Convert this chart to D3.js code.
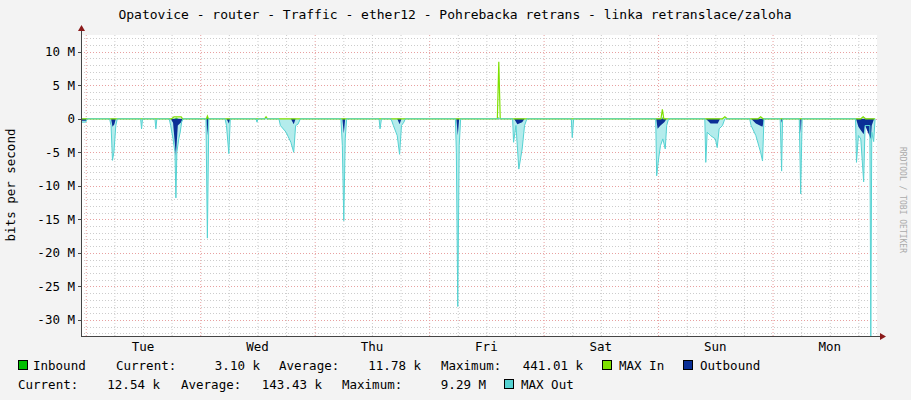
<!DOCTYPE html>
<html><head><meta charset="utf-8">
<script src="https://cdn.jsdelivr.net/npm/d3@7"></script>
<style>body{margin:0;background:#f3f3f3}svg{display:block}text{font-family:"DejaVu Sans Mono",monospace;fill:#000}</style>
</head><body><svg id="c" width="911" height="400"></svg>
<script>
const title = "Opatovice - router - Traffic - ether12 - Pohrebacka retrans - linka retranslace/zaloha";
const dayLabels = ["Tue","Wed","Thu","Fri","Sat","Sun","Mon"];
const yTicks = [10,5,0,-5,-10,-15,-20,-25,-30];
// [hour since Mon 00:00, Mbit/s]
const maxOut = [[-1,-0.5],[0,-0.5],[0.3,0],[5.0,0],[5.3,-1],[5.6,-6.2],[5.9,-5],[6.3,-1],[6.6,0],[11.5,0],[11.7,-1.5],[11.9,0],[14.5,0],[14.7,-1.5],[14.9,0],[17.5,0],[17.8,-1],[18.3,-3],[18.7,-5],[18.9,-11.8],[19.1,-5],[19.5,-3],[19.8,-2],[20.1,-0.5],[20.4,0],[25.2,0],[25.5,-17.8],[25.8,0],[29.2,0],[29.5,-1],[30.0,-5.2],[30.3,0],[35.7,0],[35.9,-0.5],[36.1,0],[40.5,0],[40.8,-1],[42,-2],[43,-3.5],[43.6,-5],[44,-1],[44.5,-0.8],[45,0],[53.5,0],[53.8,-4],[54.1,-15.2],[54.4,-3],[54.7,0],[61.5,0],[61.7,-1.5],[62,0],[64,0],[64.5,-1],[65.3,-2.5],[65.8,-5.3],[66.2,-1],[66.7,-0.5],[67,0],[77.5,0],[77.7,-5],[78,-28],[78.3,-4],[78.6,0],[89.5,0],[89.7,-3.5],[90.2,-1],[90.8,-7.5],[91.5,-4.5],[92,-1],[92.5,0],[101.8,0],[102,-2.8],[102.3,0],[119.5,0],[119.7,-8.5],[120.1,-6],[120.5,-4],[121,-3],[121.5,-4.5],[121.8,-1],[122.2,0],[129.8,0],[130,-6.5],[130.3,-2],[131,-2.5],[132,-3],[132.4,-4.3],[132.8,-1.5],[133.5,-1],[134,0],[139.2,0],[139.5,-1],[140.5,-2.5],[141.5,-5],[141.9,-6.3],[142.2,0],[145.6,0],[145.9,-7.8],[146.1,0],[149.6,0],[149.9,-11.2],[150.2,0],[161.4,0],[161.6,-6.5],[162,-2.5],[162.5,-3],[163.1,-9.4],[163.4,-1],[164.4,-1],[164.6,-32.5],[164.8,-2],[165.2,-3.4],[165.5,0]];
const outbound = [[-1,-0.3],[0,-0.3],[0.3,0],[5.3,0],[5.6,-1.2],[6,-0.8],[6.3,0],[17.8,0],[18.3,-0.6],[18.9,-5.5],[19.3,-1],[20,-0.5],[20.3,0],[25.3,0],[25.5,-2.5],[25.7,0],[29.5,0],[30,-0.7],[30.3,0],[43,0],[43.6,-0.8],[44,0],[53.8,0],[54.1,-2.2],[54.4,0],[65.3,0],[65.8,-0.8],[66.2,0],[77.7,0],[78,-2.5],[78.3,0],[89.8,0],[90.5,-0.8],[91.5,-0.5],[92,0],[119.6,0],[119.9,-1.5],[120.5,-1],[121.3,-0.5],[121.8,0],[130,0],[131,-0.7],[132.5,-0.7],[133,0],[139.5,0],[140.5,-0.7],[141.9,-1.2],[142.2,0],[145.8,0],[145.9,-0.6],[146.1,0],[149.8,0],[149.9,-2.2],[150.1,0],[161.5,0],[162,-1.2],[163.1,-2.3],[163.4,-1],[164.6,-3],[164.8,-1],[165.3,0]];
const maxIn = [[-1,0],[18,0],[18.5,0.3],[20,0.3],[20.3,0],[25.3,0],[25.5,0.4],[25.7,0],[37.5,0],[37.8,0.3],[38.1,0],[86.3,0],[86.6,8.5],[86.9,0],[120.6,0],[120.9,1.4],[121.2,0],[133.5,0],[134,0.3],[134.5,0],[141,0],[141.5,0.3],[142,0],[162.5,0],[163,0.3],[163.5,0],[165.5,0]];
const inbound = [[-1,0],[18.5,0],[19,0.15],[19.5,0],[25.4,0],[25.5,0.2],[25.6,0],[86.5,0],[86.6,0.3],[86.7,0],[120.8,0],[120.9,0.3],[121,0],[165.5,0]];

const svg = d3.select("#c");
const L=81,R=877,T=35,B=336;
const x = d3.scaleLinear().domain([-1,165.9]).range([L,R]);
const y = d3.scaleLinear().domain([-32.4,12.5]).range([B,T]);
svg.append("rect").attr("x",L).attr("y",T).attr("width",R-L).attr("height",B-T).attr("fill","#fff");
for(let h=0;h<=166;h+=6){ if(x(h)>R) break; svg.append("line").attr("x1",x(h)+.5).attr("x2",x(h)+.5).attr("y1",T).attr("y2",B)
  .attr("stroke",h%24===0?"#e8a0a0":"#ccc").attr("stroke-dasharray","1,2");}
for(let v=-32;v<=12;v++){ svg.append("line").attr("x1",L).attr("x2",R).attr("y1",Math.round(y(v))+.5).attr("y2",Math.round(y(v))+.5)
  .attr("stroke",v%5===0?"#e8a0a0":"#ccc").attr("stroke-dasharray","1,2");}
const area = d3.area().x(d=>x(d[0])).y0(y(0)).y1(d=>y(d[1]));
const line = d3.line().x(d=>x(d[0])).y(d=>y(d[1]));
svg.append("path").attr("d",area(maxOut)).attr("fill","#b4ecec");
svg.append("path").attr("d",area(outbound)).attr("fill","#0a2f96");
svg.append("path").attr("d",line(maxIn)).attr("fill","none").attr("stroke","#7ee000").attr("stroke-width",1.2);
svg.append("path").attr("d",area(inbound)).attr("fill","#00c000");
svg.append("path").attr("d",line(maxOut)).attr("fill","none").attr("stroke","#55d2d2").attr("stroke-width",1);
svg.append("line").attr("x1",L).attr("x2",R+5).attr("y1",B+.5).attr("y2",B+.5).attr("stroke","#444");
svg.append("line").attr("x1",L+.5).attr("x2",L+.5).attr("y1",B).attr("y2",T-6).attr("stroke","#444");
svg.append("path").attr("d",`M${R+9},${B+.5}L${R+3},${B-3}L${R+3},${B+4}Z`).attr("fill","#8b1a1a");
svg.append("path").attr("d",`M${L+.5},${T-10}L${L-3},${T-4}L${L+4},${T-4}Z`).attr("fill","#8b1a1a");
const g=svg.append("g").style("font-size","12.5px");
yTicks.forEach(v=>{ g.append("text").attr("x",L-6).attr("y",y(v)+4.5).attr("text-anchor","end").text(v===0?"0":v+" M");
  svg.append("line").attr("x1",L-3).attr("x2",L).attr("y1",Math.round(y(v))+.5).attr("y2",Math.round(y(v))+.5).attr("stroke","#444");});
dayLabels.forEach((d,i)=>g.append("text").attr("x",x(24*i+12)).attr("y",351).attr("text-anchor","middle").text(d));
svg.append("text").attr("x",455).attr("y",19).attr("text-anchor","middle").style("font-size","13px").text(title);
svg.append("text").attr("transform","translate(15,185) rotate(-90)").attr("text-anchor","middle").style("font-size","12.5px").text("bits per second");
svg.append("text").attr("transform","translate(900,200) rotate(90)").attr("text-anchor","middle").style("font-size","8px").style("fill","#aaa").text("RRDTOOL / TOBI OETIKER");
const lg=svg.append("g").style("font-size","12.5px");
function sw(xx,yy,c){lg.append("rect").attr("x",xx+.5).attr("y",yy+.5).attr("width",9).attr("height",9).attr("fill",c).attr("stroke","#000");}
function t(xx,yy,s,a){lg.append("text").attr("x",xx).attr("y",yy).attr("text-anchor",a||"start").text(s);}
sw(18,360,"#00c000"); t(33,370,"Inbound"); t(116,370,"Current:"); t(260,370,"3.10 k","end"); t(279,370,"Average:");
t(421,370,"11.78 k","end"); t(441,370,"Maximum:"); t(583,370,"441.01 k","end");
sw(602,360,"#7ee000"); t(619,370,"MAX In"); sw(683,360,"#0a2f96"); t(700,370,"Outbound");
t(18,389,"Current:"); t(160,389,"12.54 k","end"); t(181,389,"Average:"); t(322,389,"143.43 k","end");
t(342,389,"Maximum:"); t(486,389,"9.29 M","end"); sw(504,379,"#55d2d2"); t(521,389,"MAX Out");
</script></body></html>
